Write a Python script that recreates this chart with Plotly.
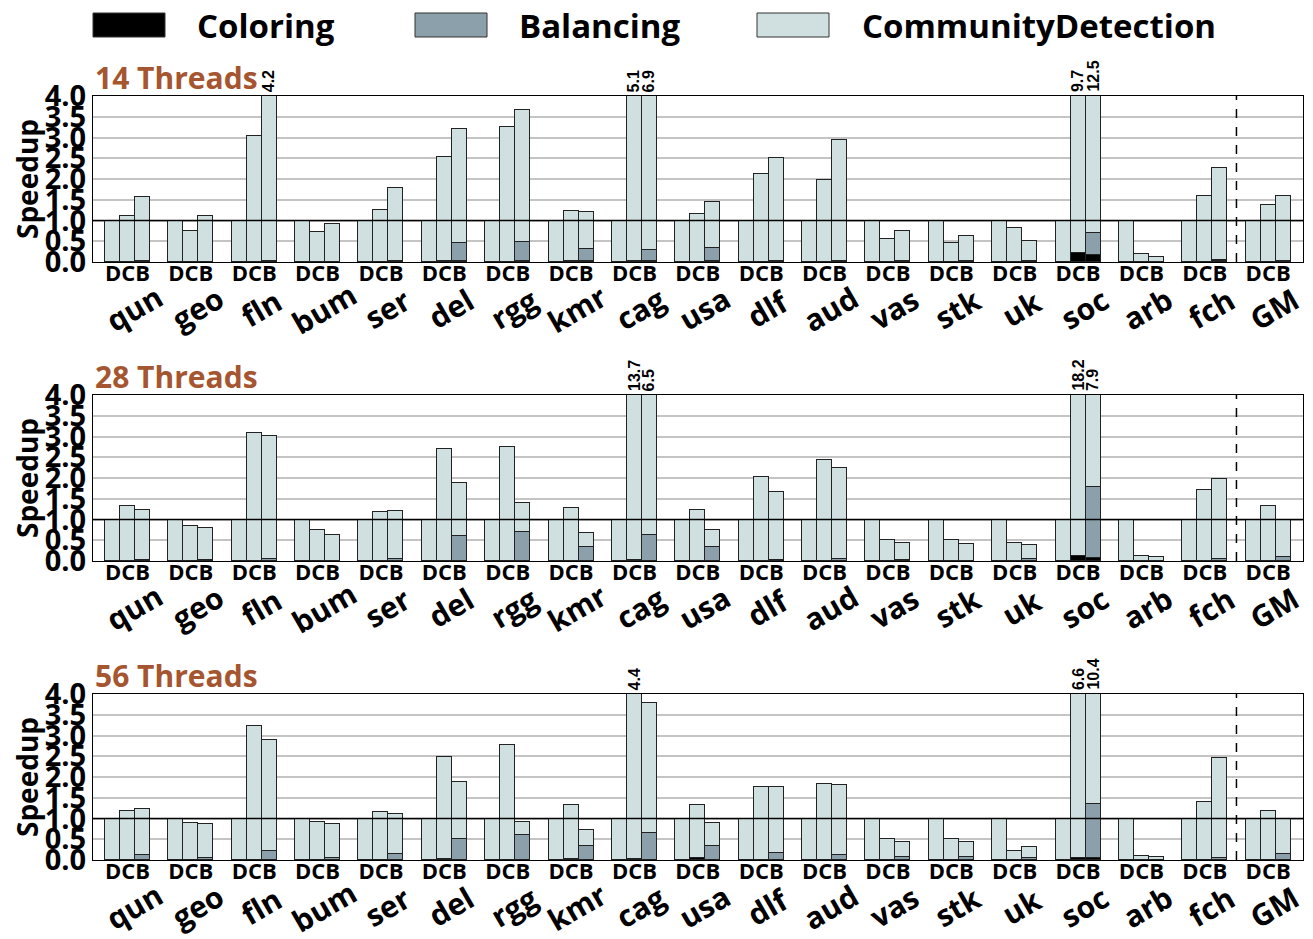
import plotly.graph_objects as go

# ---------------- data ----------------
graphs = ['qun', 'geo', 'fln', 'bum', 'ser', 'del', 'rgg', 'kmr', 'cag', 'usa',
          'dlf', 'aud', 'vas', 'stk', 'uk', 'soc', 'arb', 'fch', 'GM']
panel_titles = ['14 Threads', '28 Threads', '56 Threads']
series_names = ['Coloring', 'Balancing', 'CommunityDetection']
y_ticks = [0.0, 0.5, 1.0, 1.5, 2.0, 2.5, 3.0, 3.5, 4.0]

# D = baseline
speedup_D = [1.0, 1.0, 1.0, 1.0, 1.0, 1.0, 1.0, 1.0, 1.0, 1.0,
             1.0, 1.0, 1.0, 1.0, 1.0, 1.0, 1.0, 1.0, 1.0]

# ----- 14 threads -----
speedup_C_14 = [1.11, 0.75, 3.04, 0.72, 1.25, 2.52, 3.26, 1.22, 5.1, 1.15,
                2.11, 1.97, 0.55, 0.47, 0.81, 9.7, 0.20, 1.58, 1.38]
speedup_B_14 = [1.57, 1.10, 4.2, 0.91, 1.78, 3.20, 3.66, 1.20, 6.9, 1.44,
                2.50, 2.95, 0.74, 0.63, 0.51, 12.5, 0.11, 2.27, 1.58]
coloring_C_14 = [0.005, 0.005, 0.01, 0.005, 0.005, 0.02, 0.01, 0.03, 0.03, 0.01,
                 0.005, 0.005, 0.005, 0.005, 0.005, 0.21, 0.005, 0.005, 0.005]
balancing_C_14 = [0.0, 0.0, 0.0, 0.0, 0.0, 0.0, 0.0, 0.0, 0.0, 0.0,
                  0.0, 0.0, 0.0, 0.0, 0.0, 0.0, 0.0, 0.0, 0.0]
coloring_B_14 = [0.01, 0.005, 0.02, 0.005, 0.02, 0.02, 0.02, 0.03, 0.03, 0.02,
                 0.02, 0.02, 0.02, 0.02, 0.02, 0.17, 0.005, 0.03, 0.02]
balancing_B_14 = [0.005, 0.005, 0.01, 0.005, 0.01, 0.43, 0.47, 0.29, 0.26, 0.31,
                  0.01, 0.01, 0.01, 0.01, 0.01, 0.54, 0.005, 0.01, 0.01]

# ----- 28 threads -----
speedup_C_28 = [1.32, 0.84, 3.09, 0.75, 1.19, 2.69, 2.75, 1.27, 13.7, 1.22,
                2.02, 2.43, 0.50, 0.50, 0.43, 18.2, 0.13, 1.72, 1.33]
speedup_B_28 = [1.23, 0.80, 3.01, 0.62, 1.20, 1.87, 1.40, 0.67, 6.5, 0.75,
                1.67, 2.25, 0.43, 0.40, 0.38, 7.9, 0.10, 1.97, 0.99]
coloring_C_28 = [0.005, 0.005, 0.005, 0.005, 0.005, 0.01, 0.01, 0.01, 0.03, 0.01,
                 0.005, 0.005, 0.005, 0.005, 0.005, 0.13, 0.005, 0.005, 0.005]
balancing_C_28 = [0.0, 0.0, 0.0, 0.0, 0.0, 0.0, 0.0, 0.0, 0.0, 0.0,
                  0.0, 0.0, 0.0, 0.0, 0.0, 0.0, 0.0, 0.0, 0.0]
coloring_B_28 = [0.01, 0.01, 0.01, 0.005, 0.01, 0.01, 0.01, 0.01, 0.01, 0.01,
                 0.01, 0.01, 0.005, 0.005, 0.01, 0.07, 0.005, 0.01, 0.01]
balancing_B_28 = [0.02, 0.01, 0.03, 0.005, 0.03, 0.60, 0.68, 0.32, 0.62, 0.32,
                  0.01, 0.04, 0.01, 0.005, 0.04, 1.72, 0.005, 0.04, 0.09]

# ----- 56 threads -----
speedup_C_56 = [1.18, 0.90, 3.24, 0.92, 1.16, 2.49, 2.78, 1.33, 4.4, 1.33,
                1.76, 1.84, 0.51, 0.51, 0.22, 6.6, 0.09, 1.40, 1.19]
speedup_B_56 = [1.22, 0.86, 2.90, 0.86, 1.12, 1.88, 0.92, 0.72, 3.79, 0.88,
                1.76, 1.81, 0.44, 0.44, 0.32, 10.4, 0.08, 2.46, 0.99]
coloring_C_56 = [0.005, 0.005, 0.005, 0.005, 0.005, 0.03, 0.01, 0.02, 0.02, 0.05,
                 0.005, 0.005, 0.005, 0.005, 0.005, 0.05, 0.005, 0.005, 0.005]
balancing_C_56 = [0.0, 0.0, 0.0, 0.0, 0.0, 0.0, 0.0, 0.0, 0.0, 0.0,
                  0.0, 0.0, 0.0, 0.0, 0.0, 0.0, 0.0, 0.0, 0.0]
coloring_B_56 = [0.01, 0.01, 0.01, 0.01, 0.01, 0.01, 0.01, 0.01, 0.01, 0.01,
                 0.01, 0.01, 0.01, 0.01, 0.01, 0.05, 0.005, 0.01, 0.01]
balancing_B_56 = [0.12, 0.03, 0.21, 0.05, 0.13, 0.50, 0.60, 0.32, 0.65, 0.32,
                  0.15, 0.10, 0.07, 0.07, 0.04, 1.29, 0.005, 0.04, 0.14]

panels = [
    (speedup_C_14, speedup_B_14, coloring_C_14, balancing_C_14, coloring_B_14, balancing_B_14),
    (speedup_C_28, speedup_B_28, coloring_C_28, balancing_C_28, coloring_B_28, balancing_B_28),
    (speedup_C_56, speedup_B_56, coloring_C_56, balancing_C_56, coloring_B_56, balancing_B_56),
]

# ---------------- style ----------------
FONT = 'Open Sans'
COL_COLOR = '#000000'
BAL_COLOR = '#8ba0aa'
CD_COLOR = '#d0e0e0'
TITLE_COLOR = '#a5552f'
OUTLINE = dict(color='#222222', width=1)
W = 0.237
YMAX = 4.0

OFF = 8  # page body margin offset
FIG_W, FIG_H = 1313 - OFF, 939 - OFF
ML, MR = 93 - OFF, 10
PLOT_W = FIG_W - ML - MR
# plot areas (pixel top, bottom) in page coordinates
areas = [(96, 262), (395, 561), (694, 860)]

fig = go.Figure()
layout = dict(
    width=FIG_W, height=FIG_H,
    margin=dict(l=ML, r=MR, t=0, b=0, autoexpand=False),
    plot_bgcolor='white', paper_bgcolor='white',
    barmode='stack', bargap=0, showlegend=False,
    font=dict(family=FONT, color='black', weight='bold'),
)
annotations = []
shapes = []

n = len(graphs)
idx = list(range(n))
for p, (spC, spB, colC, balC, colB, balB) in enumerate(panels):
    sfx = '' if p == 0 else str(p + 1)
    xa, ya = 'x' + sfx, 'y' + sfx
    xD = [i - W for i in idx]
    xC = [i for i in idx]
    xB = [i + W for i in idx]

    cdD = speedup_D
    cdC = [t - c - b for t, c, b in zip(spC, colC, balC)]
    cdB = [t - c - b for t, c, b in zip(spB, colB, balB)]

    fig.add_trace(go.Bar(x=xC + xB, y=colC + colB, width=W, name=series_names[0],
                         marker=dict(color=COL_COLOR, line=OUTLINE),
                         xaxis=xa, yaxis=ya))
    fig.add_trace(go.Bar(x=xC + xB, y=balC + balB, width=W, name=series_names[1],
                         marker=dict(color=BAL_COLOR, line=OUTLINE),
                         xaxis=xa, yaxis=ya))
    fig.add_trace(go.Bar(x=xD + xC + xB, y=cdD + cdC + cdB, width=W, name=series_names[2],
                         marker=dict(color=CD_COLOR, line=OUTLINE),
                         xaxis=xa, yaxis=ya))

    top, bot = areas[p]
    top -= OFF
    bot -= OFF
    dom = [(FIG_H - bot) / FIG_H, (FIG_H - top) / FIG_H]
    layout['xaxis' + sfx] = dict(
        domain=[0, 1], anchor=ya, range=[-0.544, n - 1 + 0.55], automargin=False,
        tickmode='array', tickvals=idx, ticktext=['DCB'] * n,
        tickfont=dict(size=22, family=FONT, weight='bold'), ticklabelstandoff=-8,
        ticks='', showgrid=False, zeroline=False,
        showline=True, linecolor='black', linewidth=1, mirror=True,
    )
    layout['yaxis' + sfx] = dict(
        domain=dom, anchor=xa, range=[0, YMAX], automargin=False,
        tickmode='array', tickvals=y_ticks, ticktext=['%.1f' % v for v in y_ticks],
        tickfont=dict(size=29, family=FONT, weight='bold'),
        ticks='', showgrid=True, gridcolor='#c4c4c4', gridwidth=1.5,
        zeroline=False, showline=True, linecolor='black', linewidth=1, mirror=True,
        title=dict(text='Speedup', font=dict(size=28, family=FONT, weight='bold'), standoff=6),
    )

    # horizontal baseline at 1.0
    shapes.append(dict(type='line', xref=xa + ' domain', yref=ya, x0=0, x1=1, y0=1.0, y1=1.0,
                       line=dict(color='black', width=1.6), layer='above'))
    # dashed separator before GM
    shapes.append(dict(type='line', xref=xa, yref=ya + ' domain', x0=n - 1.5, x1=n - 1.5, y0=0, y1=1,
                       line=dict(color='black', width=1.5, dash='dash'), layer='above'))

    # panel title
    annotations.append(dict(text=panel_titles[p], xref=xa + ' domain', yref=ya + ' domain',
                            x=0, y=1, xanchor='left', yanchor='bottom', showarrow=False, yshift=-4,
                            font=dict(size=30, color=TITLE_COLOR, family=FONT, weight='bold')))
    # group names
    for i, g in enumerate(graphs):
        annotations.append(dict(text=g, xref=xa, yref=ya + ' domain', x=i + 0.1, y=-0.28,
                                xanchor='center', yanchor='middle', textangle=-30, showarrow=False,
                                font=dict(size=30, family=FONT, weight='bold')))
    # clipped value labels
    for xs, vals in ((xC, spC), (xB, spB)):
        for xv, v in zip(xs, vals):
            if v > YMAX:
                annotations.append(dict(text='<b>%.1f</b>' % v, xref=xa, yref=ya + ' domain', x=xv, y=1,
                                        xanchor='center', yanchor='bottom', textangle=-90,
                                        showarrow=False, yshift=2,
                                        font=dict(size=16, family='Liberation Sans', weight='bold')))

# ---------------- legend (drawn) ----------------
def px_x(v):
    return (v - OFF - ML) / PLOT_W

def px_y(v):
    return (FIG_H - (v - OFF)) / FIG_H

legend_items = [(series_names[0], COL_COLOR, 93, 195),
                (series_names[1], BAL_COLOR, 415, 517),
                (series_names[2], CD_COLOR, 757, 860)]
for name, color, bx, tx in legend_items:
    shapes.append(dict(type='rect', xref='paper', yref='paper',
                       x0=px_x(bx), x1=px_x(bx + 72), y0=px_y(37), y1=px_y(13),
                       fillcolor=color, line=dict(color='#333333', width=1)))
    annotations.append(dict(text=name, xref='paper', yref='paper', x=px_x(tx), y=px_y(26),
                            xanchor='left', yanchor='middle', showarrow=False,
                            font=dict(size=33, family=FONT, weight='bold')))

layout['annotations'] = annotations
layout['shapes'] = shapes
fig.update_layout(**layout)
fig.write_html('out.html')
